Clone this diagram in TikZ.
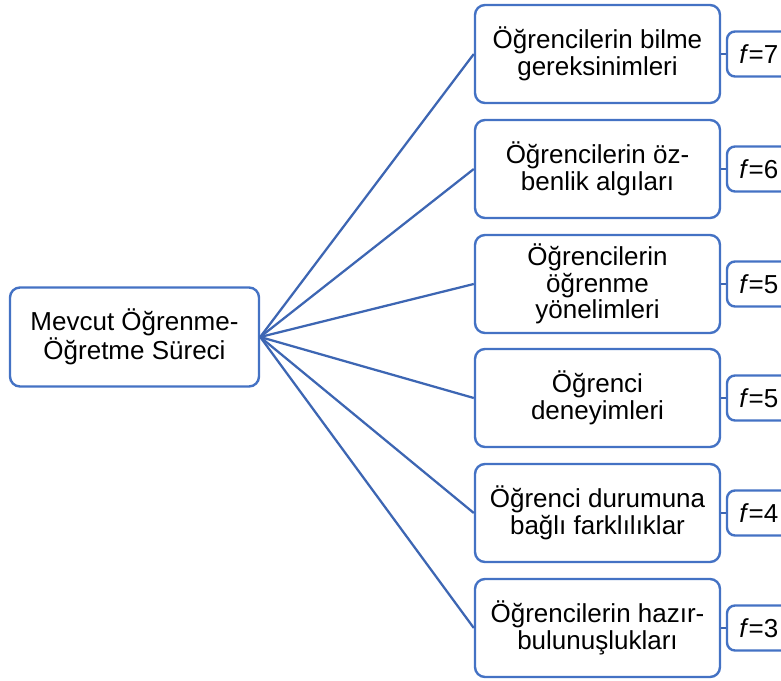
\documentclass[tikz,border=0pt]{standalone}
\usepackage{fontspec}
\setmainfont{Liberation Sans}
\definecolor{boxblue}{HTML}{4472C4}
\definecolor{lineblue}{HTML}{3D66B3}
\begin{document}
\begin{tikzpicture}[x=0.75pt,y=-0.75pt,
  every node/.style={font=\fontsize{19.5}{20}\selectfont, text=black},
  topic/.style={draw=boxblue, line width=1.8pt, rounded corners=7.5pt, fill=white,
    minimum width=183.75pt, minimum height=73.5pt, align=center, inner sep=2pt},
  root/.style={topic, minimum width=186.75pt, minimum height=74.25pt},
  freq/.style={draw=boxblue, line width=1.8pt, rounded corners=6pt, fill=white,
    minimum width=62.25pt, minimum height=33.75pt},
  link/.style={draw=lineblue, line width=1.7pt},
  flabel/.style={anchor=west, inner sep=0pt}]
\useasboundingbox (0,0) rectangle (781,681);
\clip (0,0) rectangle (781,681);

% root node
\node[root] (root) at (134.5,337) {Mevcut Öğrenme-\\Öğretme Süreci};

% topic boxes
\node[topic] (t1) at (597.5,54)  {Öğrencilerin bilme\\gereksinimleri};
\node[topic] (t2) at (597.5,169) {Öğrencilerin öz-\\benlik algıları};
\node[topic] (t3) at (597.5,284) {Öğrencilerin\\öğrenme\\yönelimleri};
\node[topic] (t4) at (597.5,398) {Öğrenci\\deneyimleri};
\node[topic] (t5) at (597.5,513) {Öğrenci durumuna\\bağlı farklılıklar};
\node[topic] (t6) at (597.5,628) {Öğrencilerin hazır-\\bulunuşlukları};

% frequency boxes
\foreach \i/\y/\v in {1/54/7, 2/169/6, 3/284/5, 4/398/5, 5/513/4, 6/628/3}{
  \node[freq] (f\i) at (768.5,\y) {};
  \node[flabel] (fl\i) at (739,\y) {\textit{f}=\v};
}

% connectors
\foreach \i in {1,...,6}{
  \draw[link] (root.east) -- (t\i.west);
  \draw[link] (t\i.east) -- (f\i.west);
}
\end{tikzpicture}
\end{document}
